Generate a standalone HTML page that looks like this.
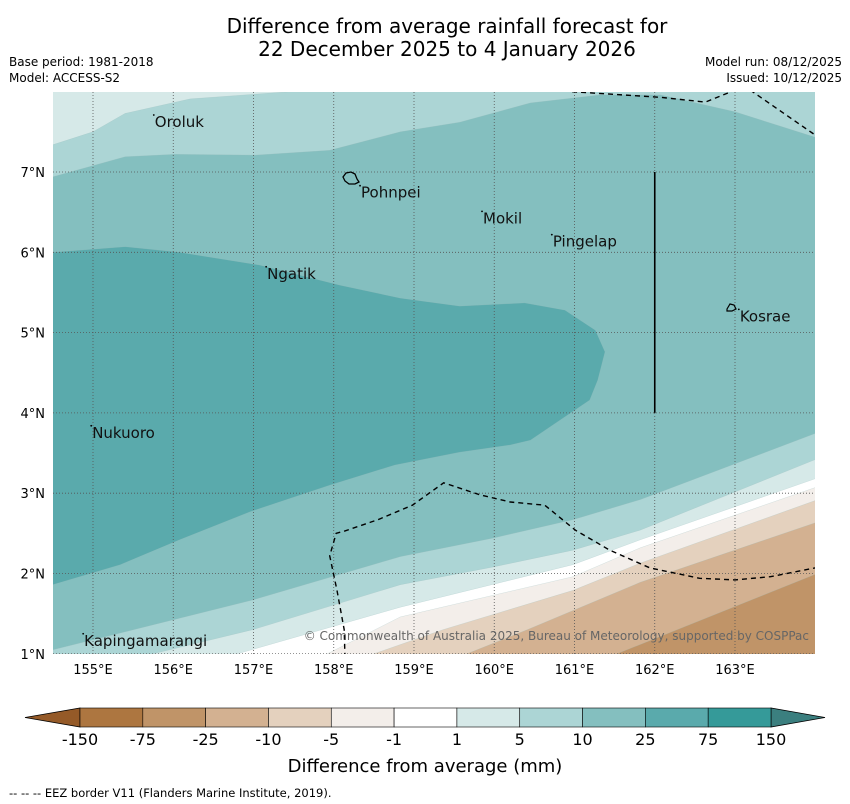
<!DOCTYPE html>
<html><head><meta charset="utf-8">
<style>
html,body{margin:0;padding:0;background:#fff;}
svg{display:block;font-family:"DejaVu Sans","Liberation Sans",sans-serif;}
</style></head>
<body>
<svg id="chart" width="850" height="804" viewBox="0 0 850 804" xmlns="http://www.w3.org/2000/svg">
<text x="447" y="33" font-size="20" text-anchor="middle">Difference from average rainfall forecast for</text>
<text x="447" y="56" font-size="20" text-anchor="middle">22 December 2025 to 4 January 2026</text>
<text x="9" y="66" font-size="12">Base period: 1981-2018</text>
<text x="9" y="82" font-size="12">Model: ACCESS-S2</text>
<text x="842" y="66" font-size="12" text-anchor="end">Model run: 08/12/2025</text>
<text x="842" y="82" font-size="12" text-anchor="end">Issued: 10/12/2025</text>
<defs><clipPath id="mapclip"><rect x="53" y="92" width="762" height="562"/></clipPath></defs>
<g id="map" clip-path="url(#mapclip)"></g>
<g id="axes"></g>
<g id="cbar"></g>
<text x="425" y="772" font-size="18" text-anchor="middle">Difference from average (mm)</text>
<text x="9" y="797" font-size="11.5">--  --  -- EEZ border V11 (Flanders Marine Institute, 2019).</text>
</svg>
<script>
const lonTicks=[155,156,157,158,159,160,161,162,163];
const latTicks=[1,2,3,4,5,6,7];
const cbLevels=["-150","-75","-25","-10","-5","-1","1","5","10","25","75","150"];
const cbColors=["#ad7640","#c09468","#d3b191","#e4d1be","#f3eeea","#ffffff","#d6e9e8","#acd5d5","#84bfbf","#5aaaac","#359a99"];
// contour regions [lon,lat]
const regionGE5=[[154.5,7.34],[155,7.5],[155.4,7.73],[156.21,7.91],[157.45,8.0],[164.2,8.0],[164.2,3.5],[161.82,2.54],[160.98,2.29],[159.98,2.08],[158.83,1.86],[156.99,1.30],[155.75,1.0],[155.6,0.8],[154.3,0.8],[154.3,7.34]];
const regionGE10=[[154.3,6.94],[154.5,6.94],[155.4,7.19],[156.02,7.22],[157.02,7.21],[157.95,7.27],[158.83,7.5],[159.57,7.62],[160.45,7.86],[161.32,7.96],[162.07,7.96],[163.0,7.75],[164.2,7.37],[164.2,3.82],[161.82,2.92],[160.98,2.67],[159.98,2.44],[158.83,2.21],[156.99,1.67],[154.5,1.05],[154.3,1.02]];
const regionGE25=[[154.3,6.0],[154.5,6.0],[155.4,6.07],[156.08,6.0],[157.08,5.84],[158.08,5.59],[158.83,5.43],[159.57,5.33],[160.38,5.37],[160.88,5.28],[161.26,5.03],[161.38,4.76],[161.29,4.41],[161.19,4.16],[160.82,3.91],[160.45,3.66],[160.2,3.6],[159.57,3.51],[158.76,3.35],[157.95,3.1],[156.96,2.77],[156.08,2.42],[155.34,2.11],[154.5,1.86],[154.3,1.86]];
const lineP1=[[164.2,3.25],[161.82,2.42],[160.98,2.11],[158.83,1.58],[156.8,1.0]];
const lineM1=[[164.2,3.14],[161.82,2.32],[160.98,1.96],[158.83,1.46],[157.92,1.0]];
const lineM5=[[164.2,2.98],[161.82,2.13],[160.98,1.79],[159.36,1.30],[158.5,1.0]];
const lineM10=[[164.2,2.7],[161.82,1.89],[160.41,1.30],[159.66,1.0]];
const lineM25=[[164.2,2.07],[161.53,1.0]];
const eezLower=[[158.14,0.95],[158.13,1.3],[158.04,1.79],[157.95,2.22],[158.03,2.5],[158.14,2.53],[158.55,2.67],[158.98,2.85],[159.37,3.13],[159.82,2.98],[160.2,2.89],[160.63,2.85],[161.01,2.54],[161.44,2.29],[161.94,2.07],[162.56,1.94],[163.0,1.92],[163.44,1.96],[164.0,2.07]];
const eezTop1=[[160.97,8.0],[162.07,7.93],[162.63,7.87],[163.0,8.02]];
const eezTop2=[[163.19,8.02],[164.0,7.46]];
const islands=[["Oroluk",155.77,7.56],["Pohnpei",158.34,6.68],["Mokil",159.86,6.36],["Pingelap",160.73,6.07],["Ngatik",157.17,5.67],["Kosrae",163.06,5.14],["Nukuoro",154.99,3.69],["Kapingamarangi",154.89,1.10]];

const X=lon=>93+(lon-155)*80.25;
const Y=lat=>172-(lat-7)*80.3;
const NS='http://www.w3.org/2000/svg';
function mk(tag,attrs,parent){const e=document.createElementNS(NS,tag);for(const k in attrs)e.setAttribute(k,attrs[k]);parent.appendChild(e);return e;}
const pts=a=>a.map(p=>X(p[0]).toFixed(1)+','+Y(p[1]).toFixed(1)).join(' ');
const map=document.getElementById('map');
let r=mk('rect',{x:53,y:92,width:762,height:562,fill:'#d6e9e8'},map);


function region(arr,fill,name){const p=mk('polygon',{points:pts(arr),fill:fill,stroke:'#9bb',"stroke-width":0.4,"stroke-opacity":0.5},map);

}
region(regionGE5,'#acd5d5','contour-5-10');
region(regionGE10,'#84bfbf','contour-10-25');
region(regionGE25,'#5aaaac','contour-25-75');
function belowLine(arr,fill,name){const a=arr.concat([[arr[arr.length-1][0],0.8],[164.2,0.8]]);region(a,fill,name);}
belowLine(lineP1,'#ffffff','contour-white');
belowLine(lineM1,'#f3eeea','contour-minus1-minus5');
belowLine(lineM5,'#e4d1be','contour-minus5-minus10');
belowLine(lineM10,'#d3b191','contour-minus10-minus25');
belowLine(lineM25,'#c09468','contour-minus25-minus75');
// grid
lonTicks.forEach(l=>{const g=mk('line',{x1:X(l),x2:X(l),y1:92,y2:654,stroke:'#555',"stroke-width":0.8,"stroke-dasharray":'1,2'},map);

});
latTicks.forEach(l=>{const g=mk('line',{x1:53,x2:815,y1:Y(l),y2:Y(l),stroke:'#555',"stroke-width":0.8,"stroke-dasharray":'1,2'},map);

});
// EEZ
[eezLower,eezTop1,eezTop2].forEach((a,i)=>{const e=mk('polyline',{points:pts(a),fill:'none',stroke:'#000',"stroke-width":1.4,"stroke-dasharray":'5,4'},map);

});
let v=mk('line',{x1:X(162),x2:X(162),y1:Y(7),y2:Y(4),stroke:'#000',"stroke-width":1.6},map);


// islands outlines
let pb=mk('path',{d:'M343,177 l3,-4 l5,-1 l4,2 l2,5 l2,3 l-4,2 l-6,0 l-4,-3 z',fill:'none',stroke:'#000',"stroke-width":1.3},map);


let kb=mk('path',{d:'M727,309 l3,-5 l4,1 l2,4 l-4,2 l-5,0 z',fill:'none',stroke:'#000',"stroke-width":1.2},map);


islands.forEach(s=>{const t=mk('text',{x:X(s[1]),y:Y(s[2]),"font-size":15,fill:'#111'},map);t.textContent=s[0];


const d=mk('circle',{cx:X(s[1])-1,cy:Y(s[2])-12,r:0.9,fill:'#000'},map);

});
let cp=mk('text',{x:809,y:640,"font-size":12,fill:'#666',"text-anchor":'end'},map);
cp.textContent='© Commonwealth of Australia 2025, Bureau of Meteorology, supported by COSPPac';


// axis labels
const axes=document.getElementById('axes');
lonTicks.forEach(l=>{const t=mk('text',{x:X(l),y:674,"font-size":13,"text-anchor":'middle'},axes);t.textContent=l+'°E';

});
latTicks.forEach(l=>{const t=mk('text',{x:45,y:Y(l)+5,"font-size":13,"text-anchor":'end'},axes);t.textContent=l+'°N';

});
// colorbar
const cb=document.getElementById('cbar');
const cx0=80,cx1=771,cy0=708,cy1=727,sw=(cx1-cx0)/cbColors.length;
let lt=mk('polygon',{points:`${cx0},${cy0} ${cx0},${cy1} 25,${(cy0+cy1)/2}`,fill:'#955a28',stroke:'#000',"stroke-width":0.8},cb);


let rt=mk('polygon',{points:`${cx1},${cy0} ${cx1},${cy1} 825,${(cy0+cy1)/2}`,fill:'#3b7f7f',stroke:'#000',"stroke-width":0.8},cb);


cbColors.forEach((c,i)=>{const s=mk('rect',{x:cx0+i*sw,y:cy0,width:sw,height:cy1-cy0,fill:c,stroke:'#000',"stroke-width":0.6},cb);

});
cbLevels.forEach((l,i)=>{const t=mk('text',{x:cx0+i*sw,y:745,"font-size":16,"text-anchor":'middle'},cb);t.textContent=l;

});
</script>
</body></html>
